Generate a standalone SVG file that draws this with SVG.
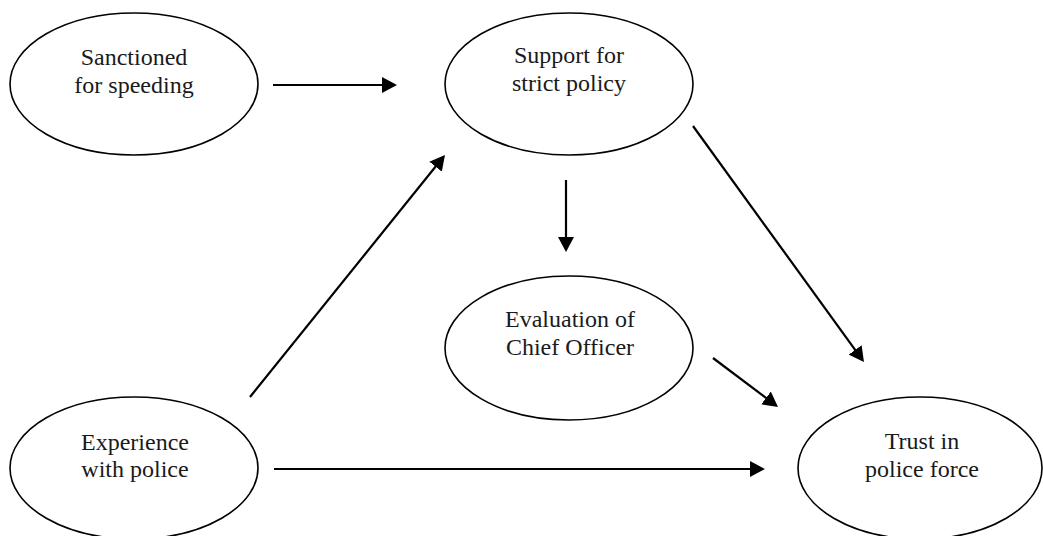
<svg xmlns="http://www.w3.org/2000/svg" width="1043" height="536" viewBox="0 0 1043 536">
<style>
.node ellipse{fill:#fff;stroke:#000;stroke-width:1.6}
.node text{font-family:"Liberation Serif","DejaVu Serif",serif;font-size:24px;fill:#1a1a1a;text-anchor:middle}
.edge{stroke:#000;stroke-width:2.2;fill:none;marker-end:url(#ah)}
</style>
<defs>
<marker id="ah" viewBox="0 0 15 16" refX="12" refY="8" markerWidth="15" markerHeight="16" markerUnits="userSpaceOnUse" orient="auto">
<path d="M0,0 L15,8 L0,16 z" fill="#000"/>
</marker>
</defs>
<rect width="1043" height="536" fill="#fff"/>
<g id="connectors">
<line class="edge" x1="273" y1="85" x2="394" y2="85"/>
<line class="edge" x1="250" y1="397" x2="443.1" y2="157.3"/>
<line class="edge" x1="566" y1="180" x2="566" y2="249"/>
<line class="edge" x1="693" y1="126" x2="862.2" y2="359.6"/>
<line class="edge" x1="713" y1="358" x2="775.6" y2="405.2"/>
<line class="edge" x1="274" y1="469" x2="762" y2="469"/>
</g>
<g id="sanctioned" class="node">
<ellipse cx="134" cy="84" rx="124" ry="71"/>
<text x="134" y="65">Sanctioned</text>
<text x="134" y="93">for speeding</text>
</g>
<g id="support" class="node">
<ellipse cx="569" cy="84" rx="124" ry="71"/>
<text x="569" y="63">Support for</text>
<text x="569" y="91">strict policy</text>
</g>
<g id="evaluation" class="node">
<ellipse cx="569" cy="348" rx="124" ry="72"/>
<text x="570" y="327">Evaluation of</text>
<text x="570" y="355">Chief Officer</text>
</g>
<g id="experience" class="node">
<ellipse cx="134" cy="468" rx="124" ry="71"/>
<text x="135" y="450">Experience</text>
<text x="135" y="477">with police</text>
</g>
<g id="trust" class="node">
<ellipse cx="920" cy="468" rx="122" ry="71"/>
<text x="922" y="449">Trust in</text>
<text x="922" y="477">police force</text>
</g>
</svg>
